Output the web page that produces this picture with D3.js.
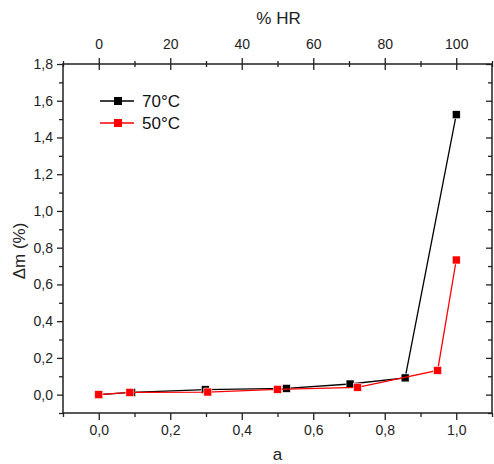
<!DOCTYPE html>
<html>
<head>
<meta charset="utf-8">
<script src="https://cdn.jsdelivr.net/npm/d3@7"></script>
<style>
  body { margin: 0; background: #fff; }
  svg { display: block; font-family: "Liberation Sans", Arial, sans-serif; }
</style>
</head>
<body>
<svg id="chart" width="494" height="464"></svg>
<script>
const seriesNames = ["70°C", "50°C"];
const seriesColors = ["#000000", "#ff0000"];
const aw70 = [0.0, 0.092, 0.298, 0.525, 0.703, 0.857, 1.0];
const dm70 = [0.0, 0.012, 0.027, 0.034, 0.058, 0.091, 1.524];
const aw50 = [0.0, 0.087, 0.305, 0.50, 0.724, 0.948, 1.0];
const dm50 = [0.0, 0.012, 0.014, 0.029, 0.040, 0.132, 0.733];
const xTicks = [0.0, 0.2, 0.4, 0.6, 0.8, 1.0];
const yTicks = [0.0, 0.2, 0.4, 0.6, 0.8, 1.0, 1.2, 1.4, 1.6, 1.8];
const hrTicks = [0, 20, 40, 60, 80, 100];

const svg = d3.select("#chart");
const L = 63, R = 492, T = 64, B = 413;
const x = d3.scaleLinear().domain([-0.1, 1.1]).range([L, R]);
const y = d3.scaleLinear().domain([-0.1, 1.8]).range([B, T]);
const xh = d3.scaleLinear().domain([-10, 110]).range([L, R]);
const fmt = d => d3.format(".1f")(d).replace(".", ",");
const axisColor = "#222";

const xMinor = d3.range(-0.1, 1.11, 0.2).map(v => +v.toFixed(2));
const yMinor = d3.range(-0.1, 1.71, 0.2).map(v => +v.toFixed(2));
const hrMinor = d3.range(-10, 111, 20);

function styleAxis(g) {
  g.select(".domain").remove();
  g.selectAll("line").attr("stroke", axisColor).attr("stroke-width", 1.3);
  g.selectAll("text").attr("fill", "#222").attr("font-size", 14);
}

// bottom axis
svg.append("g").attr("transform", `translate(0,${B})`)
  .call(d3.axisBottom(x).tickValues(xTicks).tickFormat(fmt).tickSize(7).tickPadding(5))
  .call(styleAxis);
svg.append("g").attr("transform", `translate(0,${B})`)
  .call(d3.axisBottom(x).tickValues(xMinor).tickFormat("").tickSize(4))
  .call(styleAxis);

// left axis
svg.append("g").attr("transform", `translate(${L},0)`)
  .call(d3.axisLeft(y).tickValues(yTicks).tickFormat(fmt).tickSize(6).tickPadding(4))
  .call(styleAxis);
svg.append("g").attr("transform", `translate(${L},0)`)
  .call(d3.axisLeft(y).tickValues(yMinor).tickFormat("").tickSize(4))
  .call(styleAxis);

// right axis (inward ticks)
svg.append("g").attr("transform", `translate(${R},0)`)
  .call(d3.axisLeft(y).tickValues(yTicks).tickFormat("").tickSize(6))
  .call(styleAxis);
svg.append("g").attr("transform", `translate(${R},0)`)
  .call(d3.axisLeft(y).tickValues(yMinor).tickFormat("").tickSize(4))
  .call(styleAxis);

// top axis (%HR), crossing ticks
const topG = svg.append("g").attr("transform", `translate(0,${T})`);
topG.call(d3.axisTop(xh).tickValues(hrTicks).tickFormat(d => d).tickSize(6).tickPadding(9)).call(styleAxis);
topG.selectAll(".tick line").attr("y2", 6).attr("y1", -6);
const topMinor = svg.append("g").attr("transform", `translate(0,${T})`);
topMinor.call(d3.axisTop(xh).tickValues(hrMinor).tickFormat("").tickSize(3)).call(styleAxis);
topMinor.selectAll(".tick line").attr("y1", -3).attr("y2", 3);

// frame
svg.append("rect").attr("x", L).attr("y", T).attr("width", R - L).attr("height", B - T)
  .attr("fill", "none").attr("stroke", axisColor).attr("stroke-width", 1.5);

// axis titles
svg.append("text").attr("x", (L + R) / 2).attr("y", 460).attr("text-anchor", "middle")
  .attr("font-size", 17).attr("fill", "#222").text("a");
svg.append("text").attr("x", (L + R) / 2 + 1).attr("y", 24).attr("text-anchor", "middle")
  .attr("font-size", 17).attr("fill", "#222").text("% HR");
svg.append("text").attr("transform", "translate(25,251) rotate(-90)").attr("text-anchor", "middle")
  .attr("font-size", 17).attr("fill", "#222").text("Δm (%)");

// series
const series = [
  { name: seriesNames[0], color: seriesColors[0], pts: aw70.map((a, i) => [a, dm70[i]]) },
  { name: seriesNames[1], color: seriesColors[1], pts: aw50.map((a, i) => [a, dm50[i]]) }
];
const line = d3.line().x(d => x(d[0])).y(d => y(d[1]));
const ms = 8;
series.forEach(s => {
  svg.append("path").datum(s.pts).attr("d", line)
    .attr("fill", "none").attr("stroke", s.color).attr("stroke-width", 1.3);
  svg.selectAll(null).data(s.pts).enter().append("rect")
    .attr("x", d => x(d[0]) - ms / 2).attr("y", d => y(d[1]) - ms / 2)
    .attr("width", ms).attr("height", ms).attr("fill", s.color)
    .attr("stroke", "#fff").attr("stroke-width", 0.6);
});

// legend
series.forEach((s, i) => {
  const ly = 101 + i * 22;
  const g = svg.append("g");
  g.append("line").attr("x1", 100).attr("x2", 134).attr("y1", ly).attr("y2", ly)
    .attr("stroke", s.color).attr("stroke-width", 1.3);
  g.append("rect").attr("x", 117 - ms / 2 + 1).attr("y", ly - ms / 2).attr("width", ms).attr("height", ms)
    .attr("fill", s.color);
  g.append("text").attr("x", 142).attr("y", ly + 6).attr("font-size", 17).attr("fill", "#111").text(s.name);
});
</script>
</body>
</html>
